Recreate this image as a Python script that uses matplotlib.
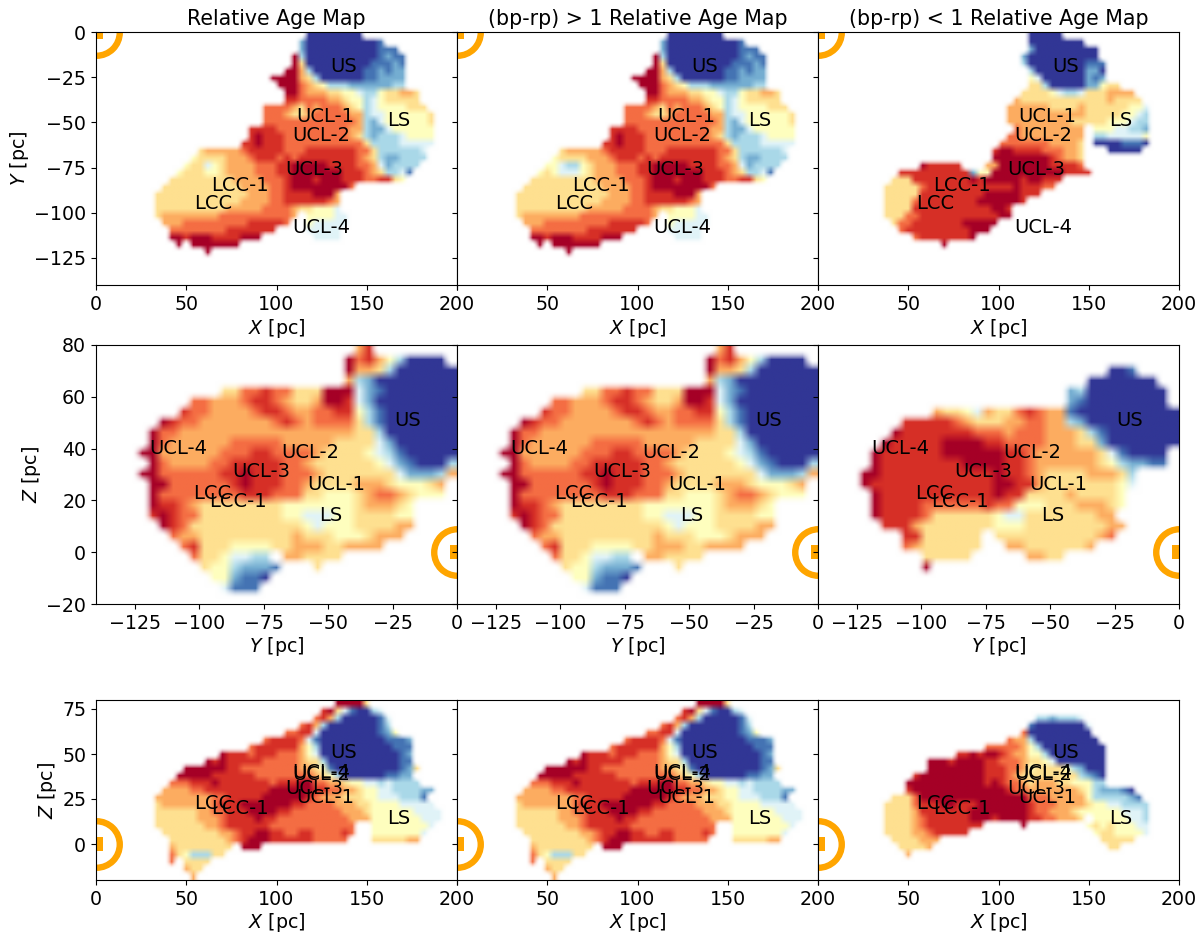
import numpy as np
import matplotlib
matplotlib.use('Agg')
import matplotlib.pyplot as plt

# level of each 4 pc cell: 0 navy ... a dark red, . no stars
XY_ALL = [
    ".......... .......... .........0 0000000",
    ".......... .......... ........20 0000000001",
    ".......... .......... ........20 0000000001 11",
    ".......... .......... .......a30 0000000001 211",
    ".......... .......... .......a60 0000000011 121",
    ".......... .......... ......aa73 0000000112 122",
    ".......... .......... ....aaaa76 3000000112 222",
    ".......... .......... .....aaa87 6533322222 233",
    ".......... .......... ......aa87 7766554335 66776",
    ".......... .......... ......9988 8877655345 66666",
    ".......... .......... ...8888768 7888765345 555666",
    ".......... .......... ...8887667 8888877344 5555556",
    ".......... .......... ...8888888 8888887324 5555556",
    ".......... .......... .999988888 8888877322 4555555",
    ".......... .......... .9a9998888 8888876323 3345555",
    ".......... .......... 99a9998888 8888888633 3344444",
    ".......... ....677777 8999998889 9999998863 333334",
    ".......... ...5666677 7899989899 9999998763 223333",
    ".......... ..56645677 7788899aaa aa99998874 23333",
    ".......... .566655677 7788899aaa aaaa999876 3341",
    ".......... 6666666667 7778889aaa 9aaa999889 965",
    ".........6 6666666666 7777889aaa aaaaa8....",
    "........66 6666666666 6777889999 aaa7",
    "........66 6666666666 7777889999 9987",
    "........66 6666666677 7778888766 5554",
    "........67 7777777888 88888887.5 55544",
    ".........7 7788888888 8999998..5 44444",
    ".......... 8888888899 99999....4 4444",
    ".......... aa9aaa9999 aaa....... 4444",
    ".......... .a.aaaaaaa",
    ".......... .....a....",
]
# the red sample looks the same except for a pale patch in LCC
XY_MID = list(XY_ALL)
XY_MID[18] = ".......... ..55433567 7788899aaa aa99998874 23333"
XY_MID[19] = ".......... .565444567 7788899aaa aaaa999876 3341"
XY_BLUE = [
    ".......... .......... .........0 0000",
    ".......... .......... .........0 0000000",
    ".......... .......... .........2 000000000",
    ".......... .......... ........20 000000000",
    ".......... .......... ........30 0000000111",
    ".......... .......... .........3 0000000220",
    ".......... .......... .........5 4000000212",
    ".......... .......... .........6 6300000225 66",
    ".......... .......... ........66 6654334666 7777",
    ".......... .......... .......766 6666666666 76666",
    ".......... .......... ......7777 7766667666 666554",
    ".......... .......... ......7777 7777777666 665543",
    ".......... .......... ......7777 7777766666 555433",
    ".......... .......... .......877 7777777.55 544332",
    ".......... .......... ......8877 7777777.33 444445",
    ".......... .......... .....88888 8877776.00 001110",
    ".......... .......... ....9aa999 9888776... 00000",
    ".......... .......... ....aaaaaa aa98776...",
    ".......... ....a99999 ...77aaaaa aa99998...",
    ".......... .999999999 9255aaaaaa aaaa9999",
    ".......... 6669999999 9a9aaaaa9a a999",
    ".........6 6666899999 9999999a99 988",
    ".........6 6666999999 999aaaaa99 9",
    ".........6 6668999999 99aaaaaa9.",
    ".........6 6669999999 9999aa9...",
    ".........6 6688999999 99999aa...",
    ".......... 6889999999 aaaaa.....",
    ".......... .899999999 9aaa......",
    ".......... ...8999999 9a........",
    ".......... .......a..",
]
YZ_ALL = [
    ".......... .......... .....79...",
    ".......... .......... ....a89753 0000",
    ".......... .......... ....a77630 00000",
    ".......... .......... ....732000 00000",
    ".......... ..66889886 66aaa42100 00000",
    ".........8 8777899876 67aa942000 00000",
    "........98 8777789987 7889953100 00000",
    "......a988 7777777898 7888863100 00000",
    ".....a8877 7777777777 7777766300 00000",
    ".....a8777 7778888877 7776666420 00000",
    "....aa7777 7788899888 8766665431 00000",
    ".....a8777 7889999988 7666666542 10003",
    "....aa8888 8899a99988 8766666664 22237",
    ".....aa888 8889a99988 7666677765 5567",
    ".....a8888 8888999888 6655567887 6555",
    ".....a9987 6666666655 5555567776 5",
    ".....9a988 6666666655 4445566665 5",
    "......a986 6666666666 5455566667 7",
    ".......877 6666666667 6665556777",
    "........89 6665555667 77667777",
    ".........8 665443 3.77 6666",
    ".......... 65532221.. .6",
    ".......... .552110...",
    ".......... ..4111",
]
YZ_BLUE = [
    "",
    "",
    ".......... .......... ........00 1",
    ".......... .......... ......0000 000",
    ".......... .......... ....230000 0000",
    ".......... .......... ....210000 0000",
    ".......... .766547668 9877100000 00000",
    "........99 9998766677 8877320000 00000",
    ".......a99 9999988878 8877763100 00000",
    "......a999 99aaaa9988 8877766200 00000",
    ".....a9999 99aaaaaa99 8777777641 0000",
    ".....a9999 9999aaaa99 8777777653 2211",
    "....aa9999 9999999a99 8766667776 3",
    "....a99999 9999999aa9 9766666665 4",
    ".....a9999 9999999a99 6666766665",
    ".....a9999 8888889885 5566677765",
    ".....a9999 8666666544 666666677",
    "......9997 6666666555 6666666677",
    "........99 666666.666 666666678",
    "........87 666666..77 6666667",
    ".......... 66666..... 7766",
    ".......... a.........",
]
XZ_ALL = [
    ".......... .......... .......... ...aaaa6",
    ".......... .......... .......... .9a6410034",
    ".......... .......... .......... 8973000001 4",
    ".......... .......... ........89 7300000001 3",
    ".......... .......... ......8899 4000000001 25",
    ".......... .......... ...8999984 1000000000 1112",
    ".......... .......... .899999975 3000000000 0111",
    ".......... .......a99 9899988875 4000000000 0012",
    ".......... .....a9a99 9998888876 6300000000 0011",
    ".......... ..aaaaaa99 8888888877 6510000000 00126",
    ".......... .aaaaa9999 9988888888 7653000000 1122",
    ".......... 888999a999 99998999aa 8877655443 43333",
    ".........7 7778899999 9999aaaaaa 9988776554 4333322",
    "........77 7777778899 999aaaaaa9 8777666554 443331",
    "........67 7777778999 aaaaaaa998 8887776655 5544444",
    "........66 6666778899 9aaaa99888 8888777655 55554444",
    "........66 6666777899 99a9988888 8888877755 55555444",
    "........66 6666677899 9999888888 888888..55 5555554",
    ".........6 6666666778 99aa998899 888898..55 555554",
    ".......... 6666666678 9aaa999999 88888...66 66677",
    ".......... 766666666. aaa",
    ".......... 86533366",
    ".......... 8.6666",
    ".......... ..766",
    ".......... ...7",
]
XZ_BLUE = [
    "",
    "",
    ".......... .......... .......... 3323334",
    ".......... .......... .........1 00000004",
    ".......... .......... ........80 00000000",
    ".......... .......... ......8773 000000000",
    ".......... .......... ...8888875 3000000000",
    ".......... .........9 9a9aa98775 5300000000",
    ".......... .....aaa9a aaa9988876 6540000000",
    ".......... .....aaaaa aaa9998875 6666532000",
    ".......... ...9aaaaaa aaa9998766 6666663210",
    ".......... ..aaaaaaaa aaa9a98876 7776655533",
    ".......... ..9aaaaaaa aaaaaa9887 7777776532 2210",
    ".......... 6668aaaaaa aaaaaaaaa8 8877777533 33321",
    ".........6 6668999aa9 99aaaaaaa9 8887777655 443333",
    ".........6 6667999999 9aaaaaaaa9 8877765555 554443",
    ".........6 6667899999 9aaa9aaaa9 9887776.55 555443",
    ".........6 6667899999 999.....a. .......565 655544",
    ".........6 6667789999 9......... ........56 655554",
    ".......... 6666777... .......... .........6 6666",
    ".......... .66667.... .......... .......... 66",
    ".......... ..7",
]

titles = ["Relative Age Map", "(bp-rp) > 1 Relative Age Map", "(bp-rp) < 1 Relative Age Map"]
cluster_names = ["US", "UCL-1", "UCL-2", "UCL-3", "UCL-4", "LCC-1", "LCC", "LS"]
cluster_x = [137, 127, 125, 121, 125, 80, 65, 168]
cluster_y = [-19, -47, -57, -76, -108, -85, -95, -49]
cluster_z = [51, 26, 38.5, 31, 40, 19.5, 22.5, 14]
x_ticks = [0, 50, 100, 150, 200]
y_ticks = [-125, -100, -75, -50, -25, 0]
z_ticks_mid = [-20, 0, 20, 40, 60, 80]
z_ticks_low = [0, 25, 50, 75]

W, H = 1200, 941
lefts = [96, 457, 818]
col_w = 361
rows = [(32, 253), (345, 259), (700, 180)]
SUN = '#ffa500'
cmap = plt.get_cmap('RdYlBu_r')


def to_rgba(lines, ncols, nrows):
    grid = np.zeros((nrows, ncols, 4))
    for i, line in enumerate(lines):
        for j, c in enumerate(line.replace(" ", "")):
            if c != '.':
                grid[i, j] = cmap(int(c, 16) / 10)
    # empty cells take white, so the soft edge does not pick up black
    grid[grid[..., 3] == 0, :3] = 1
    return grid


plt.rcParams['font.size'] = 13.7
fig = plt.figure(figsize=(12, 9.41), dpi=100)

panels = [
    [XY_ALL, XY_MID, XY_BLUE],
    [YZ_ALL, YZ_ALL, YZ_BLUE],
    [XZ_ALL, XZ_ALL, XZ_BLUE],
]
extents = [(0, 200, -140, 0), (-140, 0, -20, 80), (0, 200, -20, 80)]
shapes = [(50, 35), (35, 25), (50, 25)]
text_xy = [(cluster_x, cluster_y), (cluster_y, cluster_z), (cluster_x, cluster_z)]
axis_names = [("$X$ [pc]", "$Y$ [pc]"), ("$Y$ [pc]", "$Z$ [pc]"), ("$X$ [pc]", "$Z$ [pc]")]
xt = [x_ticks, y_ticks, x_ticks]
yt = [y_ticks, z_ticks_mid, z_ticks_low]

for r, (top, height) in enumerate(rows):
    for c, left in enumerate(lefts):
        ax = fig.add_axes([left / W, 1 - (top + height) / H, col_w / W, height / H])
        ax.imshow(to_rgba(panels[r][c], *shapes[r]), extent=extents[r],
                  aspect='auto', interpolation='bilinear', origin='upper')
        # the sun sits at the origin
        ax.plot(0, 0, 'o', ms=33.5, mfc='none', mec=SUN, mew=4.6)
        ax.plot(0, 0, 's', ms=10, color=SUN, mew=0)
        xs, ys = text_xy[r]
        for name, tx, ty in zip(cluster_names, xs, ys):
            ax.text(tx, ty, name, ha='center', va='center', fontsize=14)
        ax.set_xlim(extents[r][0], extents[r][1])
        ax.set_ylim(extents[r][2], extents[r][3])
        ax.set_xticks(xt[r])
        ax.set_yticks(yt[r])
        # the 0 would sit on the 200 of the panel to the left
        if c > 0 and r != 1:
            ax.set_xticklabels([''] + [str(t) for t in x_ticks[1:]])
        ax.set_xlabel(axis_names[r][0], labelpad=2)
        if c == 0:
            ax.set_ylabel(axis_names[r][1], labelpad=2)
        else:
            ax.set_yticklabels([])
        if r == 0:
            ax.set_title(titles[c], fontsize=14.8, pad=5)

fig.savefig('out.png', dpi=100)
